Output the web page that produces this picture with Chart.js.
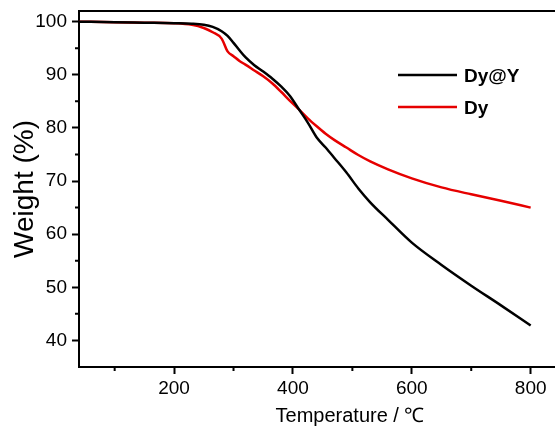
<!DOCTYPE html>
<html>
<head>
<meta charset="utf-8">
<title>TGA</title>
<script src="https://cdn.jsdelivr.net/npm/chart.js@4.4.0/dist/chart.umd.min.js"></script>
<style>
  html, body { margin: 0; padding: 0; background: #fff; overflow: hidden; }
  #wrap { position: relative; width: 621px; height: 428px; }
</style>
</head>
<body>
<div id="wrap"><canvas id="tgaChart"></canvas></div>
<script>
// temperature (°C) sampled for both curves
const temps = [40, 100, 150, 200, 230, 250, 265, 280, 290, 300, 310, 320, 335, 350, 365, 380,
  395, 410, 425, 440, 455, 470, 490, 510, 530, 560, 600, 650, 700, 750, 800];

// weight (%) of Dy@Y
const dyAtY = [100, 99.9, 99.8, 99.7, 99.6, 99.4, 99.0, 98.2, 97.3, 96.0, 94.6, 93.3, 91.8, 90.6, 89.3, 87.8,
  86.0, 83.5, 81.0, 78.2, 76.3, 74.3, 71.6, 68.6, 66.0, 62.7, 58.4, 54.2, 50.3, 46.6, 42.8];

// weight (%) of Dy
const dy = [100, 99.9, 99.8, 99.7, 99.4, 98.8, 98.0, 96.8, 94.4, 93.5, 92.6, 91.9, 90.8, 89.7, 88.4, 86.8,
  85.1, 83.5, 81.8, 80.3, 78.9, 77.7, 76.3, 74.9, 73.7, 72.2, 70.5, 68.8, 67.5, 66.3, 65.0];

const seriesNames = ['Dy@Y', 'Dy'];
const seriesColors = ['#000000', '#e60000'];

const xMinorTicks = [100, 300, 500, 700, 900];
const yMinorTicks = [45, 55, 65, 75, 85, 95];

const toPoints = (ys) => temps.map((t, i) => ({ x: t, y: ys[i] }));

// box top edge plus the short minor ticks on both axes
const frame = {
  id: 'frame',
  afterDraw(chart) {
    const { ctx, chartArea, scales } = chart;
    ctx.save();
    ctx.strokeStyle = '#000';
    ctx.lineWidth = 2;
    ctx.beginPath();
    ctx.moveTo(chartArea.left - 1, chartArea.top);
    ctx.lineTo(chartArea.right, chartArea.top);
    xMinorTicks.forEach(v => {
      const px = scales.x.getPixelForValue(v);
      ctx.moveTo(px, chartArea.bottom);
      ctx.lineTo(px, chartArea.bottom + 4);
    });
    yMinorTicks.forEach(v => {
      const py = scales.y.getPixelForValue(v);
      ctx.moveTo(chartArea.left, py);
      ctx.lineTo(chartArea.left - 4, py);
    });
    ctx.stroke();
    ctx.restore();
  }
};

// legend drawn inside the plot, upper right
const insideLegend = {
  id: 'insideLegend',
  afterDraw(chart) {
    const { ctx } = chart;
    const x0 = 398, x1 = 457, top = 75, gap = 32;
    ctx.save();
    ctx.font = 'bold 19px "Liberation Sans", Arial, sans-serif';
    ctx.textBaseline = 'middle';
    chart.data.datasets.forEach((ds, i) => {
      const y = top + i * gap;
      ctx.strokeStyle = ds.borderColor;
      ctx.lineWidth = 2.5;
      ctx.beginPath();
      ctx.moveTo(x0, y);
      ctx.lineTo(x1, y);
      ctx.stroke();
      ctx.fillStyle = '#000';
      ctx.fillText(ds.label, x1 + 7, y + 2);
    });
    ctx.restore();
  }
};

const tickFont = { family: '"Liberation Sans", Arial, sans-serif', size: 19 };

// keep the plot box where the layout padding puts it
const noLabelPadding = (s) => {
  s.paddingTop = 0;
  s.paddingBottom = 0;
  s.paddingLeft = 0;
  s.paddingRight = 0;
};

new Chart(document.getElementById('tgaChart'), {
  type: 'line',
  data: {
    datasets: [
      { label: seriesNames[0], data: toPoints(dyAtY), borderColor: seriesColors[0] },
      { label: seriesNames[1], data: toPoints(dy), borderColor: seriesColors[1] }
    ]
  },
  options: {
    responsive: true,
    maintainAspectRatio: false,
    animation: false,
    events: [],
    layout: { padding: { top: 11, right: 0, left: 0, bottom: 0 } },
    elements: {
      point: { radius: 0 },
      line: { borderWidth: 2.5, cubicInterpolationMode: 'monotone', fill: false }
    },
    plugins: { legend: { display: false }, tooltip: { enabled: false } },
    scales: {
      x: {
        type: 'linear',
        min: 40,
        max: 952,
        afterFit: (s) => { s.height = 61; noLabelPadding(s); },
        ticks: { stepSize: 200, includeBounds: false, color: '#000', font: tickFont, padding: 3, maxRotation: 0 },
        grid: { drawOnChartArea: false, tickLength: 7, tickWidth: 2, tickColor: '#000' },
        border: { color: '#000', width: 2 },
        title: {
          display: true,
          text: 'Temperature / ℃',
          color: '#000',
          font: { family: '"Liberation Sans", Arial, sans-serif', size: 20 },
          padding: { top: 9, bottom: 0 }
        }
      },
      y: {
        min: 35,
        max: 102,
        afterFit: (s) => { s.width = 79; noLabelPadding(s); },
        ticks: { stepSize: 10, includeBounds: false, color: '#000', font: tickFont, padding: 5 },
        grid: { drawOnChartArea: false, tickLength: 7, tickWidth: 2, tickColor: '#000' },
        border: { color: '#000', width: 2 },
        title: {
          display: true,
          text: 'Weight (%)',
          color: '#000',
          font: { family: '"Liberation Sans", Arial, sans-serif', size: 28 },
          padding: { top: 8, bottom: 0 }
        }
      }
    }
  },
  plugins: [frame, insideLegend]
});
</script>
</body>
</html>
